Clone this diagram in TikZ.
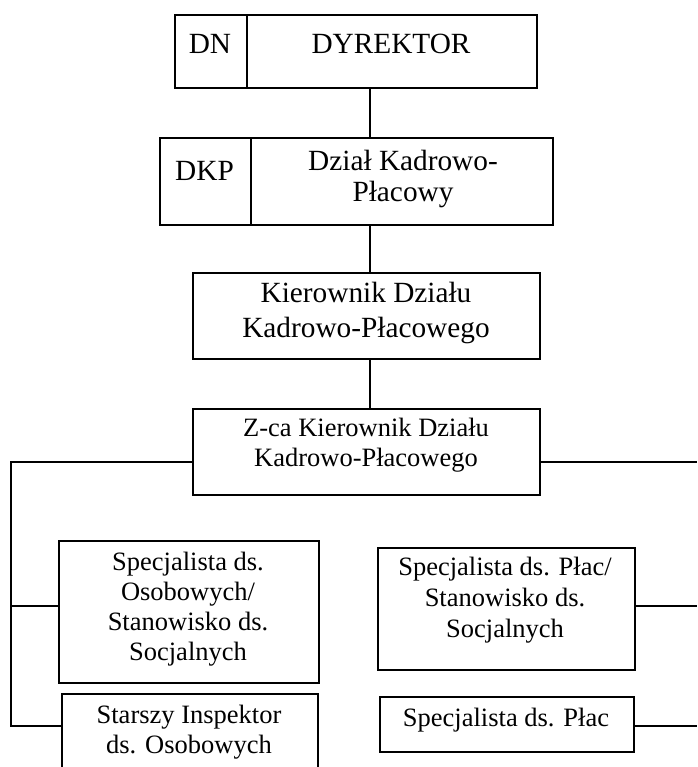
\documentclass[tikz,border=0pt]{standalone}
\usepackage{fontspec}
\setmainfont{Liberation Serif}
\begin{document}
\begin{tikzpicture}[x=1pt,y=-1pt,
  box/.style={draw=black,line width=1.6pt,rectangle,inner sep=0pt,anchor=north west},
  txt/.style={inner sep=0pt,align=center,text=black},
  big/.style={font=\fontsize{29.3}{31}\selectfont},
  bigwide/.style={font=\fontsize{29.3}{35}\selectfont},
  mid/.style={font=\fontsize{26.5}{30}\selectfont},
  midwide/.style={font=\fontsize{26.5}{31}\selectfont},
  link/.style={draw=black,line width=1.6pt}]
\useasboundingbox (0,0) rectangle (697,767);
\begin{scope}
\clip (0,0) rectangle (697,767);
% boxes
\node[box,minimum width=72pt,minimum height=73pt] (dn) at (174,14) {};
\node[box,minimum width=290pt,minimum height=73pt] (dyr) at (246,14) {};
\node[box,minimum width=91pt,minimum height=87pt] (dkp) at (159,137) {};
\node[box,minimum width=302pt,minimum height=87pt] (dzial) at (250,137) {};
\node[box,minimum width=347pt,minimum height=86pt] (kier) at (192,272) {};
\node[box,minimum width=347pt,minimum height=86pt] (zca) at (192,408) {};
\node[box,minimum width=260pt,minimum height=142pt] (b1) at (58,540) {};
\node[box,minimum width=256pt,minimum height=90pt] (b2) at (61,693) {};
\node[box,minimum width=257pt,minimum height=122pt] (b3) at (377,547) {};
\node[box,minimum width=254pt,minimum height=55pt] (b4) at (379,696) {};
% texts
\node[txt,big] (tdn) at (210,43.5) {DN};
\node[txt,big] (tdyr) at (391,43.5) {DYREKTOR};
\node[txt,big] (tdkp) at (204.5,170.5) {DKP};
\node[txt,big] (tdzial) at (403,179) {Dział Kadrowo-\\Płacowy};
\node[txt,bigwide] (tkier) at (366,313) {Kierownik Działu\\Kadrowo-Płacowego};
\node[txt,mid] (tzca) at (366,445) {Z-ca Kierownik Działu\\Kadrowo-Płacowego};
\node[txt,mid] (tb1) at (188,609) {Specjalista ds.\\Osobowych/\\Stanowisko ds.\\Socjalnych};
\node[txt,mid] (tb2) at (189,732) {Starszy Inspektor\\ds. Osobowych};
\node[txt,midwide] (tb3) at (505,600) {Specjalista ds. Płac/\\Stanowisko ds.\\Socjalnych};
\node[txt,mid] (tb4) at (506,720) {Specjalista ds. Płac};
% coordinates
\coordinate (c1) at (370,0);
\coordinate (lx) at (11,0);
\coordinate (rx) at (697,0);
\coordinate (ya) at (0,461.7);
\coordinate (yb) at (0,605.7);
\coordinate (yc) at (0,725.7);
% connectors
\draw[link] (dyr.south -| c1) -- (dzial.north -| c1);
\draw[link] (dzial.south -| c1) -- (kier.north -| c1);
\draw[link] (kier.south -| c1) -- (zca.north -| c1);
\draw[link] (zca.west |- ya) -- (lx |- ya) -- (lx |- yc) -- (b2.west |- yc);
\draw[link] (lx |- yb) -- (b1.west |- yb);
\draw[link] (zca.east |- ya) -- (rx |- ya);
\draw[link] (b3.east |- yb) -- (rx |- yb);
\draw[link] (b4.east |- yc) -- (rx |- yc);
\end{scope}
\end{tikzpicture}
\end{document}
